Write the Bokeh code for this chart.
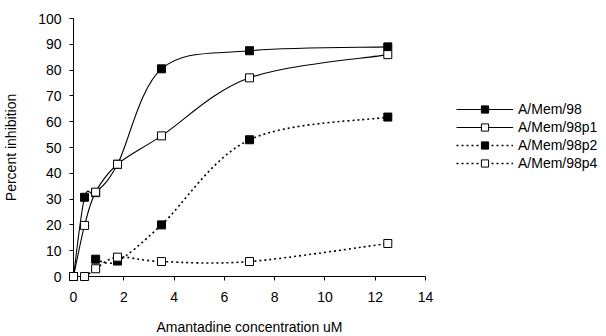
from bokeh.plotting import figure
from bokeh.models import Range1d, Legend, LegendItem, FixedTicker, ColumnDataSource
from bokeh.embed import file_html
from bokeh.resources import INLINE

# ---- data ----
x_mem98 = [0, 0.44, 0.88, 1.75, 3.5, 7, 12.5]
y_mem98 = [0, 30.7, 32.5, 43.5, 80.5, 87.5, 89]

x_p1 = [0, 0.44, 0.88, 1.75, 3.5, 7, 12.5]
y_p1 = [0, 19.8, 32.7, 43.5, 54.5, 77, 86]

x_p2 = [0.88, 1.75, 3.5, 7, 12.5]
y_p2 = [6.7, 6.0, 20, 53, 61.8]

x_p4 = [0, 0.44, 0.88, 1.75, 3.5, 7, 12.5]
y_p4 = [0, 0, 3, 7.5, 5.8, 5.8, 12.8]

series_names = ["A/Mem/98", "A/Mem/98p1", "A/Mem/98p2", "A/Mem/98p4"]
x_ticks = [0, 2, 4, 6, 8, 10, 12, 14]
y_ticks = [0, 10, 20, 30, 40, 50, 60, 70, 80, 90, 100]

FONT = "Liberation Sans"

p = figure(frame_width=352, frame_height=258, output_backend="svg", toolbar_location=None,
           x_range=Range1d(0, 14), y_range=Range1d(0, 100),
           min_border_left=68, min_border_right=0, min_border_top=18, min_border_bottom=59)
p.outline_line_color = None
p.xgrid.visible = False
p.ygrid.visible = False
p.background_fill_color = "white"

for ax in (p.xaxis[0], p.yaxis[0]):
    ax.axis_line_color = "black"
    ax.major_tick_line_color = "black"
    ax.minor_tick_line_color = None
    ax.major_label_text_font = FONT
    ax.major_label_text_font_size = "14px"
    ax.major_label_text_color = "black"
    ax.axis_label_text_font = FONT
    ax.axis_label_text_font_size = "14px"
    ax.axis_label_text_font_style = "normal"
    ax.axis_label_text_color = "black"
    ax.major_tick_out = 4
    ax.major_tick_in = 0

p.xaxis.ticker = FixedTicker(ticks=x_ticks)
p.yaxis.ticker = FixedTicker(ticks=y_ticks)
p.xaxis.axis_label = "Amantadine concentration uM"
p.yaxis.axis_label = "Percent inhibition"
p.xaxis.major_label_standoff = 11
p.xaxis.axis_label_standoff = 14
p.yaxis.major_label_standoff = 8
p.yaxis.axis_label_standoff = 16


def smooth(xs, ys, t=1.0):
    n = len(xs)
    x0s, y0s, x1s, y1s, cx0, cy0, cx1, cy1 = [], [], [], [], [], [], [], []
    for i in range(n - 1):
        pa = (xs[i - 1], ys[i - 1]) if i > 0 else (xs[i], ys[i])
        pb = (xs[i], ys[i])
        pc = (xs[i + 1], ys[i + 1])
        pd = (xs[i + 2], ys[i + 2]) if i + 2 < n else (xs[i + 1], ys[i + 1])
        x0s.append(pb[0]); y0s.append(pb[1])
        x1s.append(pc[0]); y1s.append(pc[1])
        cx0.append(pb[0] + (pc[0] - pa[0]) / 6 * t)
        cy0.append(pb[1] + (pc[1] - pa[1]) / 6 * t)
        cx1.append(pc[0] - (pd[0] - pb[0]) / 6 * t)
        cy1.append(pc[1] - (pd[1] - pb[1]) / 6 * t)
    return ColumnDataSource(dict(x0=x0s, y0=y0s, x1=x1s, y1=y1s,
                                 cx0=cx0, cy0=cy0, cx1=cx1, cy1=cy1))


specs = [
    (x_mem98, y_mem98, "black", "solid"),
    (x_p1, y_p1, "white", "solid"),
    (x_p2, y_p2, "black", "2 3"),
    (x_p4, y_p4, "white", "2 3"),
]

curves = []
for xs, ys, fill, dash in specs:
    src = smooth(xs, ys)
    r = p.bezier(x0="x0", y0="y0", x1="x1", y1="y1", cx0="cx0", cy0="cy0",
                 cx1="cx1", cy1="cy1", source=src, line_color="black",
                 line_width=1.6 if dash != "solid" else 1.1, line_dash=dash)
    curves.append(r)

marks = []
for xs, ys, fill, dash in specs:
    m = p.scatter(xs, ys, marker="square", size=8, fill_color=fill,
                  line_color="black", line_width=1, level="overlay")
    marks.append(m)

items = [LegendItem(label=name, renderers=[c, m])
         for name, c, m in zip(series_names, curves, marks)]
legend = Legend(items=items, location=(31, 104))
legend.glyph_width = 57
legend.glyph_height = 18
legend.label_height = 18
legend.spacing = 0
legend.padding = 0
legend.margin = 0
legend.label_standoff = 5
legend.label_text_font = FONT
legend.label_text_font_size = "14px"
legend.label_text_color = "black"
legend.background_fill_alpha = 0
legend.border_line_color = None
p.add_layout(legend, "right")

open("out.html", "w").write(file_html(p, INLINE))
